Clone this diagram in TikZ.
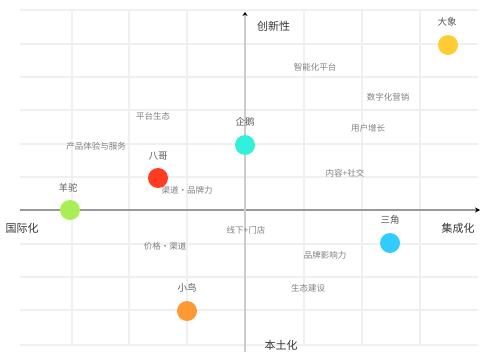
\documentclass[tikz,border=0pt]{standalone}
\usepackage{fontspec}
\newfontfamily\cjk{Noto Sans CJK SC}
\usetikzlibrary{arrows.meta}
\definecolor{gridc}{HTML}{F0F0F0}
\definecolor{axisx}{HTML}{999999}
\definecolor{axisy}{HTML}{CCCCCC}
\definecolor{txt}{HTML}{808080}
\definecolor{cyel}{HTML}{FFCC33}
\definecolor{ccya}{HTML}{33F0DD}
\definecolor{cred}{HTML}{FF3B22}
\definecolor{cgrn}{HTML}{AAEE55}
\definecolor{cblu}{HTML}{33CCFF}
\definecolor{corg}{HTML}{FF9933}
\tikzset{
  dot/.style={circle,inner sep=0pt,minimum size=20pt},
  plain/.style={font=\cjk\fontsize{8.5}{9}\selectfont,text=txt,inner sep=0pt},
  dlabel/.style={font=\cjk\fontsize{9.5}{10}\selectfont,text=black!65,inner sep=0pt},
  axlabel/.style={font=\cjk\fontsize{11}{12}\selectfont,text=black!80,inner sep=0pt},
  gridline/.style={draw=gridc,line width=1.3pt}
}
\begin{document}
\begin{tikzpicture}[x=1pt,y=-1pt]
\useasboundingbox (0,0) rectangle (481,356);
% grid
\foreach \yy in {10,44,77,110,144,177,244,277,310,345}
  \draw[gridline] (20,\yy) -- (478,\yy);
\foreach \xx in {72,129,187,304,362,420}
  \draw[gridline] (\xx,10) -- (\xx,345);
% axes
\coordinate (xl) at (20,210);
\coordinate (xr) at (480,210);
\coordinate (yb) at (245,352);
\coordinate (yt) at (245,12);
\draw[axisx,line width=2.2pt,-{Stealth[length=5pt,width=5pt,black]}] (xl) -- (xr);
\draw[axisy,line width=2pt,-{Stealth[length=4pt,width=5pt,black]}] (yb) -- (yt);
% axis labels
\node[axlabel,anchor=west] (top) at (257,26) {创新性};
\node[axlabel] (bot) at (281,345) {本土化};
\node[axlabel] (lft) at (22,228) {国际化};
\node[axlabel] (rgt) at (458,228) {集成化};
% plain labels
\node[plain] (p1) at (315,67) {智能化平台};
\node[plain] (p2) at (388,97) {数字化营销};
\node[plain] (p3) at (153,116) {平台生态};
\node[plain] (p4) at (368,128) {用户增长};
\node[plain] (p5) at (96,146) {产品体验与服务};
\node[plain] (p6) at (187,190) {渠道・品牌力};
\node[plain] (p7) at (345,173) {内容+社交};
\node[plain] (p8) at (165,246) {价格・渠道};
\node[plain] (p9) at (246,230) {线下+门店};
\node[plain] (p10) at (325,255) {品牌影响力};
\node[plain] (p11) at (308,288) {生态建设};
% dots
\node[dot,fill=cyel] (d1) at (448,45) {};
\node[dlabel] (l1) at (447,22) {大象};
\node[dot,fill=ccya] (d2) at (245,145) {};
\node[dlabel] (l2) at (245,122) {企鹅};
\node[dot,fill=cred] (d3) at (158,178) {};
\node[dlabel] (l3) at (158,156) {八哥};
\node[dot,fill=cgrn] (d4) at (70,210) {};
\node[dlabel] (l4) at (68,188) {羊驼};
\node[dot,fill=cblu] (d5) at (390,243) {};
\node[dlabel] (l5) at (390,220) {三角};
\node[dot,fill=corg] (d6) at (187,311) {};
\node[dlabel] (l6) at (187,288) {小鸟};
\end{tikzpicture}
\end{document}
